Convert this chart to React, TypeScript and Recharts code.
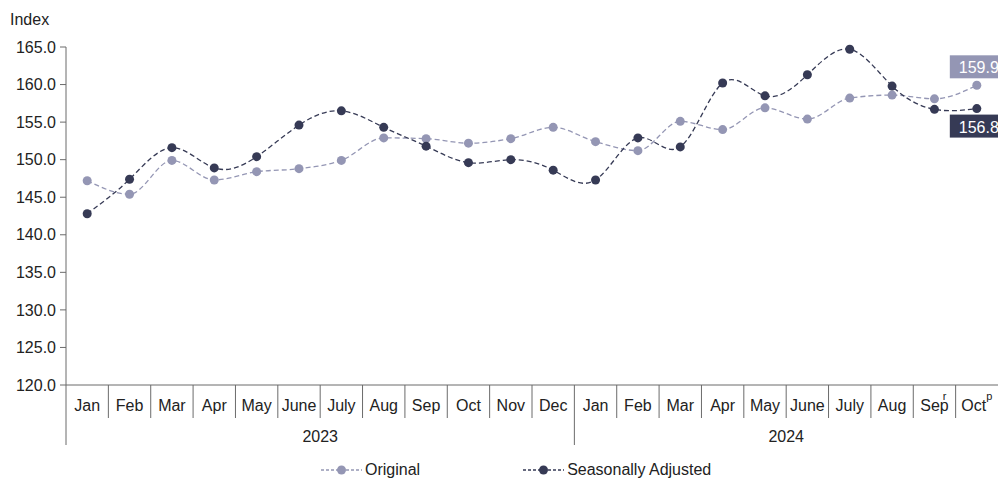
import React from "react";
import {
  LineChart,
  Line,
  XAxis,
  YAxis,
  Legend,
  LabelList,
} from "recharts";

// months on the x axis, with their year and revision notes
const months = [
  "Jan", "Feb", "Mar", "Apr", "May", "June", "July", "Aug", "Sep", "Oct", "Nov", "Dec",
  "Jan", "Feb", "Mar", "Apr", "May", "June", "July", "Aug", "Sep", "Oct",
];
const years = [
  "2023", "2023", "2023", "2023", "2023", "2023", "2023", "2023", "2023", "2023", "2023", "2023",
  "2024", "2024", "2024", "2024", "2024", "2024", "2024", "2024", "2024", "2024",
];
const notes = ["", "", "", "", "", "", "", "", "", "", "", "", "", "", "", "", "", "", "", "", "r", "p"];

const original = [
  147.2, 145.4, 149.9, 147.3, 148.4, 148.8, 149.9, 152.9, 152.8, 152.2, 152.8, 154.3,
  152.4, 151.2, 155.1, 154.0, 156.9, 155.4, 158.2, 158.6, 158.1, 159.9,
];
const seasonallyAdjusted = [
  142.8, 147.4, 151.6, 148.9, 150.4, 154.6, 156.5, 154.3, 151.8, 149.6, 150.0, 148.6,
  147.3, 152.9, 151.7, 160.2, 158.5, 161.3, 164.7, 159.8, 156.7, 156.8,
];
const yTicks = [120, 125, 130, 135, 140, 145, 150, 155, 160, 165];

const data = months.map((m, i) => ({
  month: m,
  year: years[i],
  note: notes[i],
  original: original[i],
  sa: seasonallyAdjusted[i],
}));

const FONT = "'Liberation Sans', Arial, sans-serif";
const LIGHT = "#9496b4";
const DARK = "#363a55";
const AXIS = "#6b6b6b";

const W = 998;
const H = 481;
const Y_AXIS_W = 66;
// half of one month's slot on the x axis
const HALF = (W - Y_AXIS_W) / data.length / 2;

const MonthTick = (props: any) => {
  const { x, y, index } = props;
  const row = data[index];
  const yearStart = index === 0 || data[index - 1].year !== row.year;
  const nInYear = data.filter((d) => d.year === row.year).length;
  const left = x - HALF;
  return (
    <g>
      <line x1={left} y1={y} x2={left} y2={y + (yearStart ? 60 : 33)} stroke={AXIS} strokeWidth={1} />
      <text x={x} y={y + 26} textAnchor="middle" fontSize={16} fill="#222" fontFamily={FONT}>
        {row.month}
        {row.note ? (
          <tspan dx={row.note === "r" ? -6 : 0} dy={-11} fontSize={11}>
            {row.note}
          </tspan>
        ) : null}
      </text>
      {yearStart ? (
        <text x={left + nInYear * HALF} y={y + 57} textAnchor="middle" fontSize={16} fill="#222" fontFamily={FONT}>
          {row.year}
        </text>
      ) : null}
    </g>
  );
};

const endLabel = (bg: string, below: boolean) => (props: any) => {
  const { x, y, value, index } = props;
  if (index !== data.length - 1) return null;
  const top = below ? y + 6 : y - 30;
  return (
    <g>
      <rect x={x - 27} y={top} width={60} height={23} fill={bg} />
      <text x={x - 18} y={top + 18} fontSize={16} fill="#fff" fontFamily={FONT}>
        {Number(value).toFixed(1)}
      </text>
    </g>
  );
};

const LegendContent = () => {
  const items = [
    { name: "Original", color: LIGHT, gap: 103 },
    { name: "Seasonally Adjusted", color: DARK, gap: 0 },
  ];
  return (
    <div style={{ height: 26, display: "flex", alignItems: "center", paddingLeft: 321, paddingTop: 4, boxSizing: "border-box", fontFamily: FONT, fontSize: 16, lineHeight: "20px", color: "#222" }}>
      {items.map((it) => (
        <div key={it.name} style={{ display: "flex", alignItems: "center", marginRight: it.gap }}>
          <svg width={41} height={12} style={{ marginRight: 3 }}>
            <line x1={0} y1={6} x2={41} y2={6} stroke={it.color} strokeWidth={1.3} strokeDasharray="3 2" />
            <circle cx={20.5} cy={6} r={4.5} fill={it.color} />
          </svg>
          <span>{it.name}</span>
        </div>
      ))}
    </div>
  );
};

export default function App() {
  return (
    <div style={{ width: W, height: H, overflow: "hidden", background: "#fff" }}>
      <style>{"body { margin: 0; }"}</style>
      <LineChart width={W} height={H} data={data} margin={{ top: 47, right: 0, bottom: 0, left: 0 }}>
        <XAxis
          dataKey="month"
          interval={0}
          padding={{ left: HALF, right: HALF }}
          tickLine={false}
          tickSize={0}
          tickMargin={0}
          height={70}
          stroke={AXIS}
          tick={<MonthTick />}
        />
        <YAxis
          domain={[120, 165]}
          ticks={yTicks}
          width={Y_AXIS_W}
          tickSize={6}
          tickMargin={4}
          stroke={AXIS}
          tickFormatter={(v: number) => v.toFixed(1)}
          tick={{ fill: "#222", fontSize: 16, fontFamily: FONT }}
          label={{
            content: () => (
              <text x={10} y={25} fontSize={16} fill="#222" fontFamily={FONT}>
                Index
              </text>
            ),
          }}
        />
        <Legend verticalAlign="bottom" height={26} wrapperStyle={{ left: 0, width: W }} content={<LegendContent />} />
        <Line
          dataKey="original"
          name="Original"
          type="monotone"
          stroke={LIGHT}
          strokeWidth={1.3}
          strokeDasharray="5 3"
          dot={{ r: 4.5, fill: LIGHT, stroke: "none" }}
          isAnimationActive={false}
        >
          <LabelList dataKey="original" content={endLabel(LIGHT, false)} />
        </Line>
        <Line
          dataKey="sa"
          name="Seasonally Adjusted"
          type="natural"
          stroke={DARK}
          strokeWidth={1.3}
          strokeDasharray="5 3"
          dot={{ r: 4.5, fill: DARK, stroke: "none" }}
          isAnimationActive={false}
        >
          <LabelList dataKey="sa" content={endLabel(DARK, true)} />
        </Line>
      </LineChart>
    </div>
  );
}
